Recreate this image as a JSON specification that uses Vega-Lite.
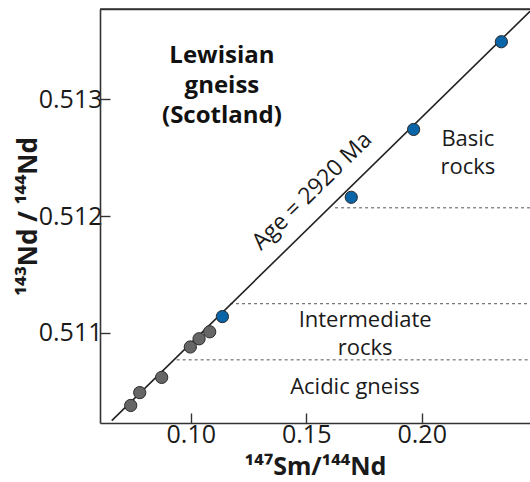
{
  "$schema": "https://vega.github.io/schema/vega-lite/v6.json",
  "width": 430,
  "height": 414,
  "autosize": "none",
  "padding": {"left": 100, "top": 9, "right": 0, "bottom": 59},
  "config": {
    "view": {"stroke": null},
    "font": "Open Sans",
    "axis": {
      "domainColor": "#333333",
      "domainWidth": 1.6,
      "tickColor": "#333333",
      "tickWidth": 1.4,
      "tickSize": -10,
      "grid": false,
      "labelFont": "Open Sans",
      "labelFontSize": 25,
      "labelColor": "#1a1a1a",
      "titleFont": "Noto Sans",
      "titleFontWeight": "bold",
      "titleColor": "#1a1a1a"
    }
  },
  "datasets": {
    "points": [
      {"x": 0.0740, "y": 0.51038, "group": "acidic"},
      {"x": 0.0779, "y": 0.51049, "group": "acidic"},
      {"x": 0.0874, "y": 0.51062, "group": "acidic"},
      {"x": 0.0998, "y": 0.51088, "group": "acidic"},
      {"x": 0.1036, "y": 0.51095, "group": "acidic"},
      {"x": 0.1082, "y": 0.51101, "group": "acidic"},
      {"x": 0.1137, "y": 0.51114, "group": "basic"},
      {"x": 0.1695, "y": 0.51216, "group": "basic"},
      {"x": 0.1965, "y": 0.51274, "group": "basic"},
      {"x": 0.2345, "y": 0.51349, "group": "basic"}
    ],
    "isochron": [
      {"x": 0.0658, "y": 0.51025},
      {"x": 0.2469, "y": 0.51375}
    ],
    "dividers": [
      {"x": 0.1625, "x2": 0.2469, "y": 0.51207},
      {"x": 0.1170, "x2": 0.2469, "y": 0.51125},
      {"x": 0.0939, "x2": 0.2469, "y": 0.51077}
    ],
    "frame": [
      {"x": 0.0607, "x2": 0.2469, "y": 0.51377}
    ],
    "title": [
      {"x": 0.1135, "y": 0.51331, "label": ["Lewisian", "gneiss", "(Scotland)"]}
    ],
    "notes": [
      {"x": 0.2200, "y": 0.51260, "label": ["Basic", "rocks"]},
      {"x": 0.1755, "y": 0.51105, "label": ["Intermediate", "rocks"]},
      {"x": 0.1711, "y": 0.51048, "label": ["Acidic gneiss"]}
    ],
    "age": [
      {"x": 0.1547, "y": 0.51217, "label": "Age = 2920 Ma"}
    ]
  },
  "resolve": {"axis": {"x": "independent", "y": "independent"}},
  "layer": [
    {
      "data": {"name": "frame"},
      "mark": {"type": "rule", "stroke": "#333333", "strokeWidth": 1.6},
      "encoding": {
        "x": {"field": "x", "type": "quantitative", "scale": {"domain": [0.0607, 0.2469], "nice": false, "zero": false}, "axis": {"orient": "top", "labels": false, "ticks": false, "title": null, "domainColor": "#333333"}},
        "x2": {"field": "x2"},
        "y": {"field": "y", "type": "quantitative", "scale": {"domain": [0.51023, 0.51377], "nice": false, "zero": false}, "axis": null}
      }
    },
    {
      "data": {"name": "dividers"},
      "mark": {"type": "rule", "stroke": "#555555", "strokeWidth": 1, "strokeDash": [3, 3]},
      "encoding": {
        "x": {"field": "x", "type": "quantitative", "scale": {"domain": [0.0607, 0.2469], "nice": false, "zero": false}, "axis": null},
        "x2": {"field": "x2"},
        "y": {"field": "y", "type": "quantitative", "scale": {"domain": [0.51023, 0.51377], "nice": false, "zero": false}, "axis": null}
      }
    },
    {
      "data": {"name": "isochron"},
      "mark": {"type": "line", "stroke": "#222222", "strokeWidth": 1.6, "clip": true},
      "encoding": {
        "x": {"field": "x", "type": "quantitative", "scale": {"domain": [0.0607, 0.2469], "nice": false, "zero": false}, "axis": null},
        "y": {"field": "y", "type": "quantitative", "scale": {"domain": [0.51023, 0.51377], "nice": false, "zero": false}, "axis": null}
      }
    },
    {
      "data": {"name": "points"},
      "mark": {"type": "circle", "size": 150, "opacity": 1, "stroke": "#2a2a2a", "strokeWidth": 1},
      "encoding": {
        "x": {"field": "x", "type": "quantitative", "scale": {"domain": [0.0607, 0.2469], "nice": false, "zero": false},
              "axis": {"orient": "bottom", "values": [0.10, 0.15, 0.20], "format": ".2f", "labelPadding": 9, "titlePadding": 7, "titleFontSize": 25, "title": "¹⁴⁷Sm/¹⁴⁴Nd"}},
        "y": {"field": "y", "type": "quantitative", "scale": {"domain": [0.51023, 0.51377], "nice": false, "zero": false},
              "axis": {"orient": "left", "values": [0.511, 0.512, 0.513], "format": ".3f", "labelPadding": 8, "titlePadding": -3, "titleFontSize": 26, "title": "¹⁴³Nd / ¹⁴⁴Nd"}},
        "color": {"field": "group", "type": "nominal", "scale": {"domain": ["acidic", "basic"], "range": ["#666666", "#0a64a8"]}, "legend": null}
      }
    },
    {
      "data": {"name": "title"},
      "mark": {"type": "text", "font": "Open Sans", "fontSize": 24, "fontWeight": "bold", "align": "center", "baseline": "alphabetic", "lineHeight": 30, "color": "#111111"},
      "encoding": {
        "x": {"field": "x", "type": "quantitative", "scale": {"domain": [0.0607, 0.2469], "nice": false, "zero": false}, "axis": null},
        "y": {"field": "y", "type": "quantitative", "scale": {"domain": [0.51023, 0.51377], "nice": false, "zero": false}, "axis": null},
        "text": {"field": "label"}
      }
    },
    {
      "data": {"name": "notes"},
      "mark": {"type": "text", "font": "Open Sans", "fontSize": 22, "align": "center", "baseline": "alphabetic", "lineHeight": 28, "color": "#1a1a1a"},
      "encoding": {
        "x": {"field": "x", "type": "quantitative", "scale": {"domain": [0.0607, 0.2469], "nice": false, "zero": false}, "axis": null},
        "y": {"field": "y", "type": "quantitative", "scale": {"domain": [0.51023, 0.51377], "nice": false, "zero": false}, "axis": null},
        "text": {"field": "label"}
      }
    },
    {
      "data": {"name": "age"},
      "mark": {"type": "text", "font": "Open Sans", "fontSize": 23, "align": "center", "baseline": "alphabetic", "angle": 315.6, "color": "#1a1a1a"},
      "encoding": {
        "x": {"field": "x", "type": "quantitative", "scale": {"domain": [0.0607, 0.2469], "nice": false, "zero": false}, "axis": null},
        "y": {"field": "y", "type": "quantitative", "scale": {"domain": [0.51023, 0.51377], "nice": false, "zero": false}, "axis": null},
        "text": {"field": "label"}
      }
    }
  ]
}
